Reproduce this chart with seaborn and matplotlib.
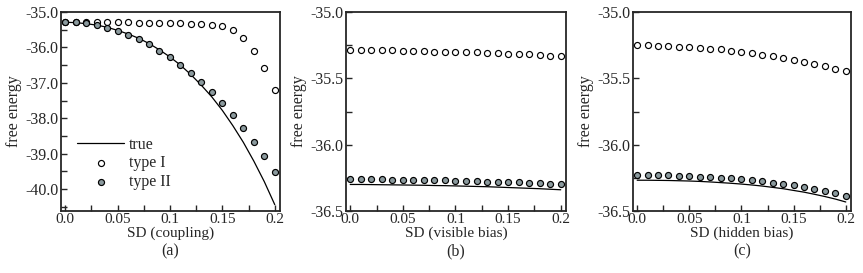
import numpy as np
import pandas as pd
import seaborn as sns
import matplotlib.pyplot as plt
from matplotlib.ticker import MultipleLocator

# SD values on the x axis (same for all three panels)
sd = [0.0, 0.01, 0.02, 0.03, 0.04, 0.05, 0.06, 0.07, 0.08, 0.09, 0.1,
      0.11, 0.12, 0.13, 0.14, 0.15, 0.16, 0.17, 0.18, 0.19, 0.2]

# (a) coupling
a_true = [-35.29, -35.30, -35.33, -35.37, -35.43, -35.52, -35.62, -35.74, -35.89, -36.07, -36.27,
          -36.50, -36.77, -37.07, -37.40, -37.78, -38.21, -38.68, -39.21, -39.79, -40.44]
a_type1 = [-35.29, -35.29, -35.29, -35.29, -35.29, -35.29, -35.29, -35.30, -35.30, -35.31, -35.31,
           -35.32, -35.33, -35.34, -35.36, -35.40, -35.52, -35.74, -36.10, -36.57, -37.19]
a_type2 = [-35.29, -35.29, -35.31, -35.36, -35.44, -35.54, -35.65, -35.76, -35.90, -36.09, -36.27,
           -36.49, -36.72, -36.99, -37.27, -37.58, -37.92, -38.27, -38.66, -39.07, -39.51]

# (b) visible bias
b_true = [-36.300, -36.300, -36.301, -36.302, -36.303, -36.304, -36.305, -36.306, -36.308, -36.309, -36.311,
          -36.313, -36.315, -36.317, -36.320, -36.323, -36.326, -36.329, -36.332, -36.336, -36.340]
b_type1 = [-35.290, -35.290, -35.290, -35.290, -35.290, -35.295, -35.295, -35.295, -35.300, -35.300, -35.300,
           -35.305, -35.305, -35.310, -35.310, -35.315, -35.320, -35.320, -35.325, -35.330, -35.335]
b_type2 = [-36.260, -36.260, -36.260, -36.260, -36.265, -36.265, -36.265, -36.270, -36.270, -36.270, -36.275,
           -36.275, -36.275, -36.280, -36.280, -36.285, -36.285, -36.290, -36.290, -36.295, -36.300]

# (c) hidden bias
c_true = [-36.268, -36.268, -36.269, -36.270, -36.272, -36.274, -36.277, -36.281, -36.286, -36.291, -36.297,
          -36.304, -36.312, -36.322, -36.332, -36.345, -36.358, -36.374, -36.391, -36.410, -36.432]
c_type1 = [-35.252, -35.252, -35.255, -35.257, -35.262, -35.265, -35.270, -35.277, -35.282, -35.293, -35.303,
           -35.310, -35.323, -35.335, -35.348, -35.361, -35.376, -35.391, -35.409, -35.426, -35.444]
c_type2 = [-36.230, -36.230, -36.230, -36.232, -36.235, -36.237, -36.240, -36.245, -36.250, -36.255, -36.262,
           -36.270, -36.277, -36.287, -36.297, -36.307, -36.318, -36.333, -36.348, -36.368, -36.388]

xlabels = ["SD (coupling)", "SD (visible bias)", "SD (hidden bias)"]
panel_tags = ["(a)", "(b)", "(c)"]
ylims = [(-40.62, -35.0), (-36.5, -35.0), (-36.5, -35.0)]
ymajor = [1.0, 0.5, 0.5]
yminor = [0.5, 0.25, 0.25]

sns.set_theme(style="ticks")
plt.rcParams['font.family'] = ['Liberation Serif', 'DejaVu Serif']

fig = plt.figure(figsize=(8.63, 2.73), dpi=100)
lefts = [61 / 863, 346 / 863, 633 / 863]
widths = [219 / 863, 220 / 863, 218 / 863]
bottom = 1 - 211 / 273
height = 199 / 273

grey = "#8b9a9e"
panels = [(a_true, a_type1, a_type2), (b_true, b_type1, b_type2), (c_true, c_type1, c_type2)]

for i, (tr, t1, t2) in enumerate(panels):
    ax = fig.add_axes([lefts[i], bottom, widths[i], height])
    df = pd.DataFrame({"sd": sd, "true": tr, "type I": t1, "type II": t2})
    sns.lineplot(data=df, x="sd", y="true", color="black", linewidth=0.9, ax=ax, label="true")
    sns.scatterplot(data=df, x="sd", y="type I", marker="o", s=19, facecolor="white",
                    edgecolor="black", linewidth=0.85, ax=ax, label="type I", zorder=3)
    sns.scatterplot(data=df, x="sd", y="type II", marker="o", s=19, color=grey,
                    edgecolor="black", linewidth=0.85, ax=ax, label="type II", zorder=3)
    ax.set_xlim(-0.004, 0.205)
    ax.set_ylim(*ylims[i])
    ax.set_xticks([0.0, 0.05, 0.1, 0.15, 0.2])
    ax.set_xticklabels(["0.0", "0.05", "0.1", "0.15", "0.2"])
    ax.xaxis.set_minor_locator(MultipleLocator(0.025))
    ax.yaxis.set_major_locator(MultipleLocator(ymajor[i]))
    ax.yaxis.set_minor_locator(MultipleLocator(yminor[i]))
    ax.yaxis.set_major_formatter(plt.FormatStrFormatter("%.1f"))
    ax.tick_params(which="both", direction="in", length=4, width=1.0, labelsize=11.5,
                   top=False, right=False, pad=2)
    ax.tick_params(axis="x", labelsize=11, pad=1.5)
    for sp in ax.spines.values():
        sp.set_linewidth(1.3)
        sp.set_visible(True)
    ax.set_xlabel(xlabels[i], fontsize=11, labelpad=0)
    ax.set_ylabel("free energy", fontsize=11.5, labelpad=2)
    ax.text(0.5, -0.205, panel_tags[i], transform=ax.transAxes, ha="center", va="center", fontsize=11.5)
    if i == 0:
        ax.legend(loc="lower left", bbox_to_anchor=(0.02, 0.05), frameon=False, fontsize=11.5,
                  handlelength=3.0, handletextpad=0.3, labelspacing=0.15, borderpad=0.2)
    else:
        ax.get_legend().remove()

fig.savefig("out.png", dpi=100)
